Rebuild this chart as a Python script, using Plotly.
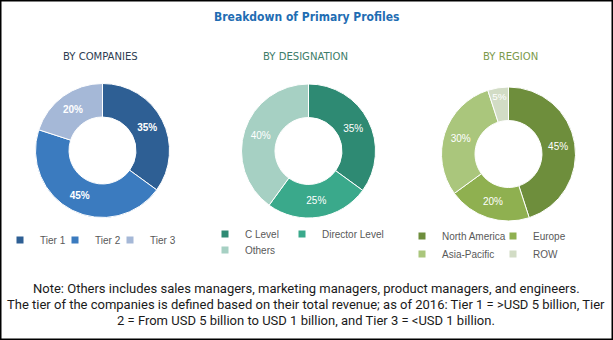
import plotly.graph_objects as go

# ---------------- data ----------------
company_labels = ["Tier 1", "Tier 2", "Tier 3"]
company_values = [35, 45, 20]

designation_labels = ["C Level", "Director Level", "Others"]
designation_values = [35, 25, 40]

region_labels = ["North America", "Europe", "Asia-Pacific", "ROW"]
region_values = [45, 20, 30, 5]

chart_title = "Breakdown of Primary Profiles"
panel_titles = ["BY COMPANIES", "BY DESIGNATION", "BY REGION"]
note_lines = [
    "Note: Others includes sales managers, marketing managers, product managers, and engineers.",
    "The tier of the companies is defined based on their total revenue; as of 2016: Tier 1 = >USD 5 billion, Tier",
    "2 = From USD 5 billion to USD 1 billion, and Tier 3 = <USD 1 billion.",
]

# ---------------- styles ----------------
company_colors = ["#2e5f94", "#3b7bbf", "#a5b8d7"]
designation_colors = ["#2e8a73", "#3aa98b", "#a6d0c3"]
region_colors = ["#6e8e3c", "#8fb050", "#aac67c", "#d2dcc5"]
panel_title_colors = ["#2e3d52", "#3d7d69", "#7c9a4c"]

W, H = 613, 340
NARROW = "DejaVu Sans Condensed, Liberation Sans Narrow, sans-serif"
SANS = "Liberation Sans, Arial, sans-serif"
NOTE = "Roboto, Liberation Sans, sans-serif"

pie_centers = [(102.5, 150.5), (308.5, 151), (508.5, 154)]
pie_radius = 67
panel_title_x = [100, 305, 510]


def dom(cx, cy, r):
    return dict(x=[(cx - r) / W, (cx + r) / W], y=[1 - (cy + r) / H, 1 - (cy - r) / H])


fig = go.Figure()

pies = [
    (company_labels, company_values, company_colors, "bold"),
    (designation_labels, designation_values, designation_colors, "normal"),
    (region_labels, region_values, region_colors, "normal"),
]
for (labels, values, colors, weight), (cx, cy) in zip(pies, pie_centers):
    fig.add_trace(go.Pie(
        labels=labels, values=values, sort=False, direction="clockwise", rotation=0,
        hole=0.5,
        marker=dict(colors=colors, line=dict(color="white", width=1)),
        texttemplate="%{value}%", textposition="inside",
        insidetextorientation="horizontal",
        textfont=dict(color="white", size=10, family=SANS, weight=weight),
        showlegend=False, domain=dom(cx, cy, pie_radius),
        hoverinfo="label+percent",
    ))

# legend rows: (legend id, labels, colors, text-x, center-y, entrywidth)
legend_rows = [
    ("legend", company_labels, company_colors, 40, 240, 10),
    ("legend2", designation_labels[:2], designation_colors[:2], 245, 234, 32),
    ("legend3", designation_labels[2:], designation_colors[2:], 245, 250, 32),
    ("legend4", region_labels[:2], region_colors[:2], 442, 236, 46),
    ("legend5", region_labels[2:], region_colors[2:], 442, 254, 46),
]

layout_legends = {}
for lg, labels, colors, xt, yc, ew in legend_rows:
    for i, (lab, col) in enumerate(zip(labels, colors)):
        last = i == len(labels) - 1
        fig.add_trace(go.Scatter(
            x=[None], y=[None], mode="markers", name=lab, legend=lg,
            marker=dict(symbol="square", size=7, color=col),
            legendwidth=90 if last else None,
            showlegend=True, hoverinfo="skip",
        ))
    layout_legends[lg] = dict(
        orientation="h", x=(xt - 40) / W, xanchor="left",
        y=1 - yc / H, yanchor="middle",
        entrywidth=ew, entrywidthmode="pixels",
        bgcolor="rgba(0,0,0,0)", borderwidth=0,
        font=dict(size=10, color="#595959", family=SANS),
        itemclick=False, itemdoubleclick=False,
    )

annotations = [
    dict(text="<b>" + chart_title + "</b>", x=306 / W, y=1 - 17 / H,
         font=dict(size=12, color="#1f6db3", family=NARROW)),
]
for t, x, c in zip(panel_titles, panel_title_x, panel_title_colors):
    annotations.append(dict(text=t, x=x / W, y=1 - 57 / H,
                            font=dict(size=11.2, color=c, family=NARROW)))
for t, y in zip(note_lines, [288, 304, 320]):
    annotations.append(dict(text=t, x=306 / W, y=1 - y / H,
                            font=dict(size=13, color="#1a1a1a", family=NOTE)))
for a in annotations:
    a.update(xref="paper", yref="paper", xanchor="center", yanchor="middle", showarrow=False)

fig.update_layout(
    width=W, height=H,
    margin=dict(l=0, r=0, t=0, b=0, autoexpand=False),
    paper_bgcolor="white", plot_bgcolor="white",
    xaxis=dict(visible=False), yaxis=dict(visible=False),
    annotations=annotations,
    shapes=[dict(type="rect", xref="paper", yref="paper", x0=0, y0=0, x1=1, y1=1,
                 line=dict(color="black", width=3), fillcolor="rgba(0,0,0,0)")],
    **layout_legends,
)

fig.write_html("out.html", config={"displayModeBar": False})
